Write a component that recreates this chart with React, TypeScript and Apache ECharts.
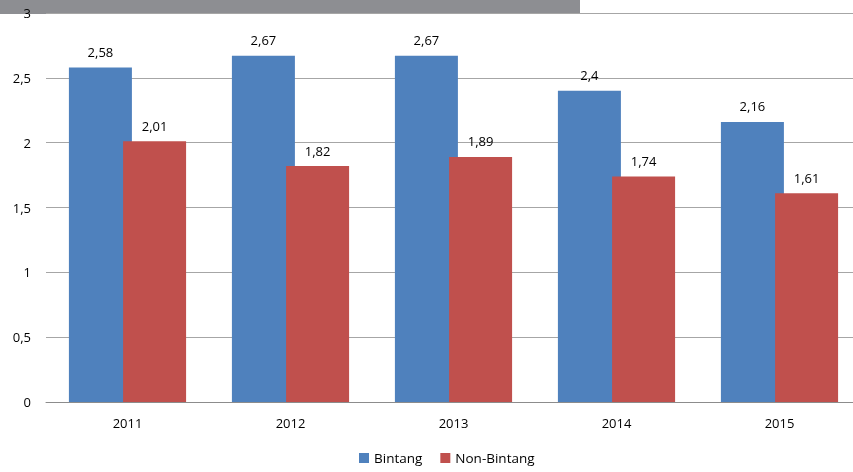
import React, { useEffect, useRef } from "react";
import * as echarts from "echarts";

const categories = ["2011", "2012", "2013", "2014", "2015"];
const bintang = [2.58, 2.67, 2.67, 2.4, 2.16];
const nonBintang = [2.01, 1.82, 1.89, 1.74, 1.61];
const seriesNames = ["Bintang", "Non-Bintang"];

const fmt = (v: number) => String(v).replace(".", ",");
const FONT = "'Open Sans', 'Liberation Sans', sans-serif";

export default function App() {
  const ref = useRef<HTMLDivElement>(null);
  useEffect(() => {
    if (!ref.current) return;
    const chart = echarts.init(ref.current, null, { renderer: "svg" });
    const label = {
      show: true,
      position: "top" as const,
      distance: 9,
      color: "#000",
      fontSize: 13,
      fontFamily: FONT,
      formatter: (p: any) => fmt(p.value),
    };
    chart.setOption({
      animation: false,
      textStyle: { fontFamily: FONT },
      grid: {
        left: 46,
        width: 815,
        top: 13,
        bottom: 70,
        outerBoundsMode: "none",
      },
      legend: {
        bottom: 2,
        left: 354,
        itemWidth: 10,
        itemHeight: 10,
        itemGap: 18,
        icon: "rect",
        textStyle: { fontSize: 13.5, color: "#000", fontFamily: FONT },
        data: seriesNames,
      },
      xAxis: {
        type: "category",
        data: categories,
        axisLine: { lineStyle: { color: "#8C8C8C", width: 1 } },
        axisTick: { show: false },
        axisLabel: { color: "#000", fontSize: 13, margin: 14, fontFamily: FONT },
      },
      yAxis: {
        type: "value",
        min: 0,
        max: 3,
        interval: 0.5,
        axisLine: { show: false },
        axisTick: { show: false },
        axisLabel: {
          color: "#000",
          fontSize: 13,
          margin: 15,
          fontFamily: FONT,
          formatter: (v: number) => fmt(v),
        },
        splitLine: { lineStyle: { color: "#A6A6A6", width: 1 } },
      },
      series: [
        {
          name: seriesNames[0],
          type: "bar",
          data: bintang,
          barWidth: 63,
          barGap: "-14%",
          itemStyle: { color: "#4F81BD" },
          label,
        },
        {
          name: seriesNames[1],
          type: "bar",
          data: nonBintang,
          barWidth: 63,
          barGap: "-14%",
          itemStyle: { color: "#C0504D" },
          label,
        },
      ],
      graphic: [
        {
          type: "rect",
          left: 0,
          top: 0,
          z: -10,
          silent: true,
          shape: { width: 580, height: 14 },
          style: { fill: "#8D8E92" },
        },
      ],
    });
    return () => chart.dispose();
  }, []);
  return (
    <div
      ref={ref}
      style={{ position: "fixed", left: 0, top: 0, width: 853, height: 472 }}
    />
  );
}
